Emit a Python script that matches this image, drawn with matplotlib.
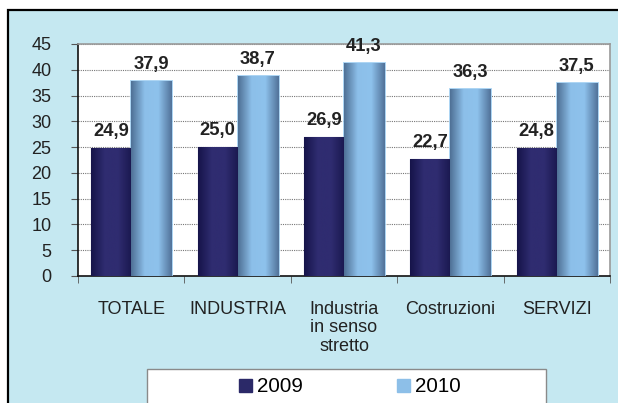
import numpy as np
import matplotlib
matplotlib.use("Agg")
import matplotlib.pyplot as plt
from matplotlib.patches import Rectangle, Patch
from matplotlib.colors import LinearSegmentedColormap

# data
categories = ["TOTALE", "INDUSTRIA", "Industria\nin senso\nstretto", "Costruzioni", "SERVIZI"]
val_2009 = [24.9, 25.0, 26.9, 22.7, 24.8]
val_2010 = [37.9, 38.7, 41.3, 36.3, 37.5]
series_names = ["2009", "2010"]

plt.rcParams['font.family'] = ['Liberation Sans', 'DejaVu Sans']

W, H = 618, 403
fig = plt.figure(figsize=(W / 100, H / 100), dpi=100)
fig.patch.set_facecolor("white")

# light blue panel with black border top/left
fig.patches.append(Rectangle((8 / W, -0.1), 1.2, (403 - 10) / H + 0.1,
                             transform=fig.transFigure, facecolor="#c5e8f1",
                             edgecolor="black", lw=1.6, zorder=-10))

ax = fig.add_axes([78 / W, 1 - 276 / H, (610 - 78) / W, (276 - 44) / H])
ax.set_facecolor("white")

x = np.arange(len(categories))
bw = 0.376
bars1 = ax.bar(x - bw / 2, val_2009, bw, color="#2b2968", edgecolor="#3a3a8a", lw=0.8, zorder=3)
bars2 = ax.bar(x + bw / 2, val_2010, bw, color="#8dbfe8", edgecolor="#a3d0f2", lw=2, zorder=3)

cm_dark = LinearSegmentedColormap.from_list("d", ["#16144a", "#2f2c70", "#2f2c70", "#1a184f"])
cm_light = LinearSegmentedColormap.from_list("l", ["#4f7196", "#8cbfe9", "#8ec2ec", "#52739a"])
grad = np.linspace(0, 1, 64).reshape(1, -1)
for bars, cm in [(bars1, cm_dark), (bars2, cm_light)]:
    for b in bars:
        im = ax.imshow(grad, cmap=cm, aspect="auto", zorder=3.5,
                       extent=(b.get_x(), b.get_x() + b.get_width(), 0, b.get_height()))
        im.set_clip_path(b)

for bars, vals in [(bars1, val_2009), (bars2, val_2010)]:
    for b, v in zip(bars, vals):
        ax.annotate(f"{v:.1f}".replace(".", ","), (b.get_x() + b.get_width() / 2, v),
                    xytext=(0, 12), textcoords="offset pixels", ha="center", va="baseline",
                    fontsize=13.2, fontweight="bold", color="#222222", zorder=5)

ax.set_xlim(-0.5, len(categories) - 0.5)
ax.set_ylim(0, 45)
ax.set_yticks(np.arange(0, 46, 5))
ax.set_xticks(x)
ax.set_xticklabels(categories, fontsize=13, color="#222222", linespacing=1.1)
ax.set_xticks(np.arange(-0.5, len(categories), 1), minor=True)
ax.tick_params(axis="x", which="major", length=0, pad=18)
ax.tick_params(axis="x", which="minor", length=5, direction="out", color="#555555")
ax.tick_params(axis="y", length=5, direction="out", pad=14, labelsize=13,
               labelcolor="#222222", color="#555555")

ax.yaxis.grid(True, linestyle=(0, (1, 1)), color="#777777", lw=0.8, zorder=1)
ax.set_axisbelow(True)
for s in ["top", "right"]:
    ax.spines[s].set_color("#9a9a9a")
    ax.spines[s].set_linewidth(1.2)
for s in ["left", "bottom"]:
    ax.spines[s].set_color("#111111")
    ax.spines[s].set_linewidth(1.2)

# legend box
fig.patches.append(Rectangle((147 / W, -0.1), (546 - 147) / W, 0.1 + 1 - 369 / H,
                             transform=fig.transFigure, facecolor="white",
                             edgecolor="#8a8a8a", lw=1, zorder=-5))
handles = [Patch(facecolor="#2b2968", edgecolor="#2b2968"),
           Patch(facecolor="#8dbfe8", edgecolor="#8dbfe8")]
fig.legend(handles, series_names, loc="center", bbox_to_anchor=(350 / W, 1 - 387 / H),
           ncol=2, frameon=False, fontsize=14.8, handlelength=0.6, handleheight=0.6,
           handletextpad=0.25, columnspacing=4.6, borderpad=0)

fig.savefig("out.png", dpi=100)
